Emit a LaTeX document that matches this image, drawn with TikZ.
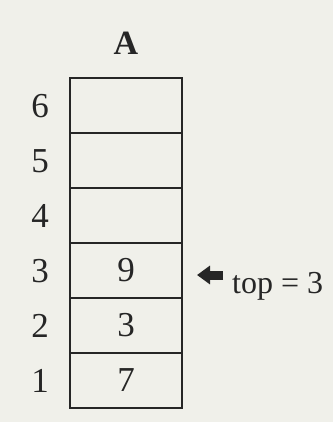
\documentclass[tikz,border=0pt]{standalone}
\usepackage{fontspec}
\setmainfont{Liberation Serif}
\usetikzlibrary{arrows.meta, positioning}
\definecolor{stpaper}{HTML}{F0F0EA}
\definecolor{stink}{HTML}{262626}

\begin{document}
\begin{tikzpicture}[
      x=1pt, y=-1pt,
      font=\fontsize{35}{40}\selectfont,
      cell/.style={draw=stink, line width=2pt, minimum width=112pt,
                   minimum height=55pt, inner sep=0pt, text=stink},
      idx/.style={text=stink, inner sep=0pt},
      ptr/.style={-{Triangle[length=13pt,width=18pt]}, stink, line width=9pt},
    ]

    % ---------------- page
    \fill[stpaper] (0,0) rectangle (333,422);
    \useasboundingbox (0,0) rectangle (333,422);

    % ---------------- array A
    \node[text=stink, font=\fontsize{34}{38}\selectfont\bfseries] (title) at (126,43) {A};
    \node[cell] (c6) at (126,105.5) {};
    \node[cell] (c5) at (126,160.5) {};
    \node[cell] (c4) at (126,215.5) {};
    \node[cell] (c3) at (126,270.5) {9};
    \node[cell] (c2) at (126,325.5) {3};
    \node[cell] (c1) at (126,380.5) {7};

    % ---------------- indices
    \node[idx] (i6) at (40,106) {6};
    \node[idx] (i5) at (40,161) {5};
    \node[idx] (i4) at (40,216) {4};
    \node[idx] (i3) at (40,271) {3};
    \node[idx] (i2) at (40,326) {2};
    \node[idx] (i1) at (40,381) {1};

    % ---------------- top pointer
    \node[text=stink, anchor=base west, inner sep=0pt, font=\fontsize{32}{36}\selectfont]
      (toplbl) at (232,293) {top = 3};
    \coordinate (tail) at (223,275);
    \coordinate (tip) at (197,275);
    \draw[ptr] (tail) -- (tip);
  \end{tikzpicture}
\end{document}
